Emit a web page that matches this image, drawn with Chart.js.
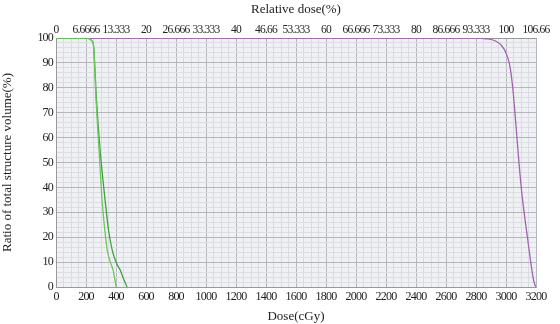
<!DOCTYPE html>
<html><head><meta charset="utf-8">
<script src="https://cdn.jsdelivr.net/npm/chart.js@4"></script>
<style>html,body{margin:0;padding:0;background:#fff}</style>
</head><body>
<canvas id="c" width="560" height="324"></canvas>
<script>
const doseTicks = [0,200,400,600,800,1000,1200,1400,1600,1800,2000,2200,2400,2600,2800,3000,3200];
const relLabels = ["0","6.6666","13.333","20","26.666","33.333","40","46.66","53.333","60","66.666","73.333","80","86.666","93.333","100","106.66"];
const volTicks = [0,10,20,30,40,50,60,70,80,90,100];

const doseA = [0,200,225,240,250,267,287,307,325,341,362,381,392,401];
const volA  = [100,100,99.6,98.8,97,75,55,35,23,15,10,6.8,3.2,0];
const doseB = [0,200,225,240,250,270,294,327,350,374,400,428,452,474];
const volB  = [100,100,99.6,98.8,97,75,55,35,23,15,10,6.8,3,0];
const doseP = [0,2800,2870,2930,2970,3000,3025,3045,3065,3085,3105,3125,3145,3165,3180,3192,3200];
const volP  = [100,100,99.7,98.8,97,94,89,80,66,51,38,28,19,10,4,1,0];

const pts = (xs, ys) => xs.map((x,i)=>({x, y: ys[i]}));
const FONT = "'Liberation Serif', 'DejaVu Serif', serif";

const bgPlugin = {
  id:'bg',
  beforeDraw(chart){
    const {ctx, chartArea:a} = chart;
    try { ctx.letterSpacing = '0px'; } catch(e){}
    ctx.save(); ctx.fillStyle='#f0f1f4'; ctx.fillRect(a.left,a.top,a.right-a.left,a.bottom-a.top); ctx.restore();
  },
  afterDatasetsDraw(chart){
    try { chart.ctx.letterSpacing = '-0.8px'; } catch(e){}
  },
  afterDraw(chart){
    try { chart.ctx.letterSpacing = '0px'; } catch(e){}
  }
};

new Chart(document.getElementById('c'), {
  type:'line',
  data:{datasets:[
    {data:pts(doseA,volA), borderColor:'#6cc85a', borderWidth:1.3, pointRadius:0, cubicInterpolationMode:'monotone'},
    {data:pts(doseB,volB), borderColor:'#3f9f45', borderWidth:1.3, pointRadius:0, cubicInterpolationMode:'monotone'},
    {data:pts(doseP,volP), borderColor:'#a064b0', borderWidth:1.3, pointRadius:0, cubicInterpolationMode:'monotone'}
  ]},
  options:{
    responsive:false, animation:false,
    layout:{padding:{left:0,right:24,top:0,bottom:0}},
    plugins:{legend:{display:false}, tooltip:{enabled:false}},
    scales:{
      x:{type:'linear', position:'bottom', min:0, max:3200,
        afterFit(s){ s.height = 37; },
        afterBuildTicks(s){ const t=[]; for(let v=0; v<=3200; v+=50) t.push({value:v}); s.ticks=t; },
        ticks:{z:1, autoSkip:false, maxRotation:0, padding:3, color:'#222', font:{family:FONT,size:12},
          callback:(v)=> doseTicks.includes(v) ? String(v) : ''},
        grid:{color:(c)=> (c.tick && c.tick.value%200===0) ? '#b4b6bc' : '#d9dbe1', lineWidth:1, drawTicks:false},
        border:{color:'#999'},
        title:{display:true, text:'Dose(cGy)', color:'#222', font:{family:FONT,size:13}, padding:{top:0,bottom:0}}
      },
      x2:{type:'linear', position:'top', min:0, max:3200,
        afterFit(s){ s.height = 38; },
        afterBuildTicks(s){ s.ticks = doseTicks.map(v=>({value:v})); },
        ticks:{z:1, autoSkip:false, maxRotation:0, padding:1, color:'#222', font:{family:FONT,size:11.5},
          callback:(v)=>{ const i=doseTicks.indexOf(v); return i>=0 ? relLabels[i] : ''; }},
        grid:{drawOnChartArea:false, drawTicks:false},
        border:{color:'#999'},
        title:{display:true, text:'Relative dose(%)', color:'#222', font:{family:FONT,size:13}, padding:{top:2,bottom:0}}
      },
      y:{type:'linear', min:0, max:100,
        afterFit(s){ s.width = 56; },
        afterBuildTicks(s){ const t=[]; for(let v=0; v<=100; v+=2) t.push({value:v}); s.ticks=t; },
        ticks:{z:1, autoSkip:false, padding:3, color:'#222', font:{family:FONT,size:12},
          callback:(v)=> volTicks.includes(v) ? String(v) : ''},
        grid:{color:(c)=> (c.tick && c.tick.value%10===0) ? '#b4b6bc' : '#dcdee4', lineWidth:1, drawTicks:false},
        border:{color:'#999'},
        title:{display:true, text:'Ratio of total structure volume(%)', color:'#222', font:{family:FONT,size:13}, padding:{top:0,bottom:2}}
      }
    }
  },
  plugins:[bgPlugin]
});
</script>
</body></html>
